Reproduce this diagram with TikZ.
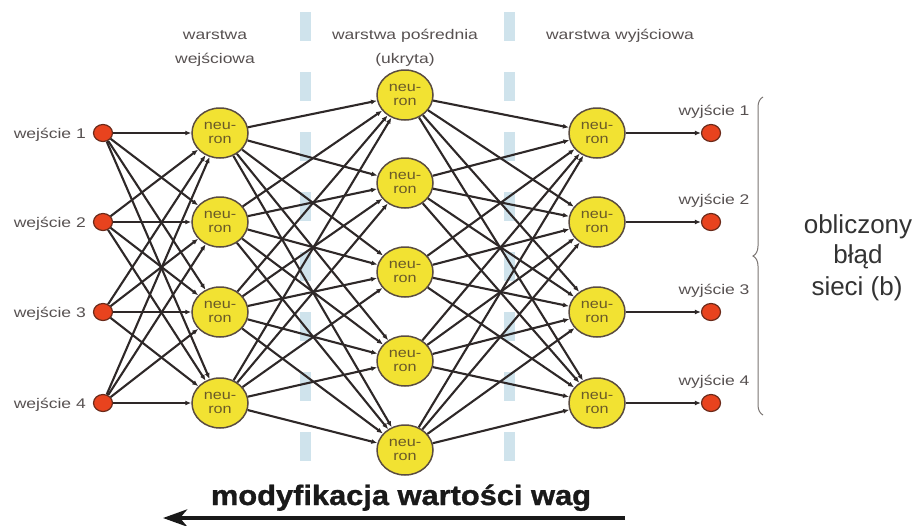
\documentclass[tikz,border=0pt]{standalone}
\usepackage{fontspec}
\setmainfont{Liberation Sans}
\newfontfamily\widefont[FakeStretch=1.25]{Liberation Sans}
\newfontfamily\neufont[FakeStretch=1.2]{Liberation Sans}
\newfontfamily\boldwide[FakeStretch=1.1,FakeBold=1.2]{Liberation Sans}
\usetikzlibrary{shapes.geometric,arrows.meta,decorations.pathreplacing}

\definecolor{nyellow}{HTML}{F2E232}
\definecolor{nborder}{HTML}{5A4C40}
\definecolor{ntext}{HTML}{6A5A28}
\definecolor{dotred}{HTML}{E8431E}
\definecolor{dotborder}{HTML}{6A2A1A}
\definecolor{linkc}{HTML}{2E2828}
\definecolor{labc}{HTML}{575151}
\definecolor{guide}{HTML}{CFE3EC}
\definecolor{bracec}{HTML}{7A7472}

\begin{document}
\begin{tikzpicture}[x=1pt,y=-1pt,
  neuron/.style={ellipse, draw=nborder, line width=1.5pt, fill=nyellow,
    minimum width=56pt, minimum height=50pt, inner sep=0pt, align=center,
    font=\neufont\fontsize{13.5}{13.5}\selectfont, text=ntext},
  iodot/.style={ellipse, draw=dotborder, line width=1.2pt, fill=dotred,
    minimum width=19pt, minimum height=17pt, inner sep=0pt},
  link/.style={draw=linkc, line width=2.1pt, -{Latex[length=6pt,width=5pt]}},
  lab/.style={font=\widefont\fontsize{14}{16}\selectfont, text=labc, inner sep=0pt},
  guideline/.style={draw=guide, line width=11pt, dash pattern=on 29pt off 31pt},
  bigtext/.style={font=\fontsize{26}{31}\selectfont, text=black!80, inner sep=0pt},
]
\useasboundingbox (0,0) rectangle (918,525);

% dashed separators between the layers
\coordinate (g1t) at (305,12);
\coordinate (g1b) at (305,462);
\coordinate (g2t) at (509,12);
\coordinate (g2b) at (509,462);
\draw[guideline] (g1t) -- (g1b);
\draw[guideline] (g2t) -- (g2b);

% layer titles
\node[lab, anchor=base] (t1a) at (215,39) {warstwa};
\node[lab, anchor=base] (t1b) at (215,63) {wejściowa};
\node[lab, anchor=base] (t2a) at (405,39) {warstwa pośrednia};
\node[lab, anchor=base] (t2b) at (405,63) {(ukryta)};
\node[lab, anchor=base] (t3a) at (620,39) {warstwa wyjściowa};

% inputs, input layer, output layer, outputs
\foreach \y [count=\i] in {133,222,312,403} {
  \node[iodot] (in\i) at (103,\y) {};
  \node[lab, anchor=base east] (inl\i) at (86,\y+5) {wejście \i};
  \node[neuron] (a\i) at (220,\y) {neu-\\ron};
  \node[neuron] (c\i) at (597,\y) {neu-\\ron};
  \node[iodot] (out\i) at (711,\y) {};
  \node[lab, anchor=base] (outl\i) at (714,\y-18) {wyjście \i};
}

% hidden layer
\foreach \y [count=\j] in {95,183,272,361,450} {
  \node[neuron] (b\j) at (405,\y) {neu-\\ron};
}

% connections
\foreach \i in {1,...,4} {
  \foreach \k in {1,...,4} {
    \draw[link] (in\i) -- (a\k);
  }
  \foreach \j in {1,...,5} {
    \draw[link] (a\i) -- (b\j);
    \draw[link] (b\j) -- (c\i);
  }
  \draw[link] (c\i) -- (out\i);
}

% network error
\coordinate (brtop) at (763,97);
\coordinate (brbot) at (763,415);
\draw[draw=bracec, line width=1pt, decorate, decoration={brace, amplitude=10pt}] (brbot) -- (brtop);
\node[bigtext, anchor=base] (err1) at (858,233) {obliczony};
\node[bigtext, anchor=base] (err2) at (858,263) {błąd};
\node[bigtext, anchor=base] (err3) at (857,295) {sieci (b)};

% weight update direction
\node[font=\boldwide\bfseries\fontsize{28}{30}\selectfont, text=black!90, anchor=base, inner sep=0pt] (upd) at (401,505) {modyfikacja wartości wag};
\coordinate (arrs) at (625,518);
\coordinate (arre) at (163,518);
\draw[line width=4.5pt, draw=black!90, -{Stealth[length=24pt,width=17pt,inset=7pt]}] (arrs) -- (arre);
\end{tikzpicture}
\end{document}
